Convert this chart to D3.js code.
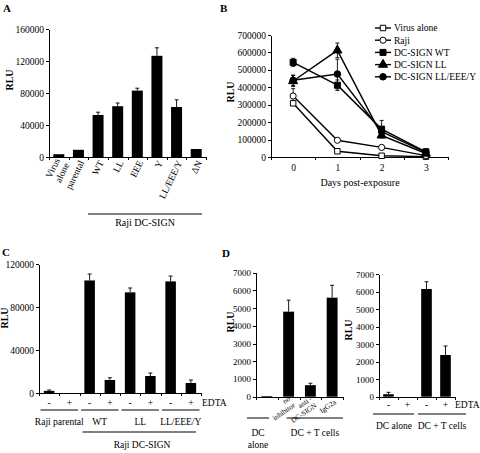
<!DOCTYPE html>
<html><head><meta charset="utf-8">
<script src="https://cdn.jsdelivr.net/npm/d3@7"></script>
<style>
body{margin:0;background:#fff;}
svg{display:block;}
svg text{font-family:"Liberation Serif","Times New Roman","DejaVu Serif",serif;fill:#000;}
.axis path,.axis line{stroke:#000;stroke-width:1;shape-rendering:crispEdges;}
.axis text{font-size:9px;}
</style></head><body>
<svg id="chart" width="480" height="453" font-family="Liberation Serif, serif"></svg>
<script>
// ---------- Panel A ----------
const aCategories = ["Virus alone","parental","WT","LL","EEE","Y","LL/EEE/Y","ΔN"];
const aValues = [3500, 9000, 52500, 63500, 83000, 126500, 62500, 10000];
const aErrors = [0, 0, 3500, 4000, 3000, 10000, 9000, 0];
const aTicks = [0, 40000, 80000, 120000, 160000];

// ---------- Panel B ----------
const bDays = [0, 1, 2, 3];
const bSeriesNames = ["Virus alone","Raji","DC-SIGN WT","DC-SIGN LL","DC-SIGN LL/EEE/Y"];
const bVirusAlone = [308000, 33000, 7000, 2000];
const bRaji = [350000, 96000, 55000, 8000];
const bWT = [543000, 412000, 160000, 30000];
const bLL = [436000, 612000, 124000, 20000];
const bLLEEEY = [440000, 476000, 145000, 27000];
const bVirusAloneErr = [12000, 5000, 2000, 1000];
const bRajiErr = [42000, 8000, 10000, 2000];
const bWTErr = [23000, 30000, 50000, 5000];
const bLLErr = [32000, 42000, 10000, 4000];
const bLLEEEYErr = [30000, 85000, 15000, 5000];
const bTicks = [0,100000,200000,300000,400000,500000,600000,700000];

// ---------- Panel C ----------
const cGroups = ["Raji parental","WT","LL","LL/EEE/Y"];
const cEdta = ["-","+"];
const cValues = [2000, 0, 104700, 12100, 93600, 15800, 103800, 9300];
const cErrors = [800, 0, 6000, 2100, 4100, 2800, 5000, 2800];
const cTicks = [0, 40000, 80000, 120000];

// ---------- Panel D (left) ----------
const dLeftCategories = ["DC alone","no inhibitor","anti-DC-SIGN","IgG2a"];
const dLeftTickLabels = [[], ["no","inhibitor"], ["anti -","DC-SIGN"], ["IgG2a"]];
const dLeftValues = [40, 4800, 650, 5590];
const dLeftErrors = [0, 650, 110, 700];
// ---------- Panel D (right) ----------
const dRightEdta = ["-","+","-","+"];
const dRightValues = [140, 0, 6160, 2385];
const dRightErrors = [110, 0, 415, 515];
const dTicks = [0,1000,2000,3000,4000,5000,6000,7000];

const svg = d3.select("#chart");
const fmt = d3.format("d");
const FONT = "Liberation Serif, Times New Roman, DejaVu Serif, serif";

function barPanel(cfg){
  const {values, errors, x0, x1, yBottom, yTop, max, ticks, barFrac=0.54, tickFont=9} = cfg;
  const n = values.length;
  const x = d3.scaleBand(d3.range(n), [x0, x1]);
  const y = d3.scaleLinear([0, max], [yBottom, yTop]);
  const g = svg.append("g");
  const ya = g.append("g").attr("class","axis").attr("transform",`translate(${x0},0)`)
    .call(d3.axisLeft(y).tickValues(ticks).tickFormat(fmt).tickSize(3).tickSizeOuter(0).tickPadding(2));
  ya.attr("font-family", FONT).selectAll("text").style("font-size", tickFont + "px");
  const xb = d3.scaleLinear([0, n], [x0, x1]);
  g.append("g").attr("class","axis").attr("transform",`translate(0,${yBottom})`)
    .call(d3.axisBottom(xb).tickValues(d3.range(n+1)).tickFormat("").tickSize(3).tickSizeOuter(0));
  const bw = x.bandwidth()*barFrac;
  g.selectAll("rect.bar").data(values).join("rect").attr("class","bar")
    .attr("x",(d,i)=>x(i)+(x.bandwidth()-bw)/2)
    .attr("y",d=>y(d)).attr("width",bw).attr("height",d=>yBottom-y(d)).attr("fill","#000");
  errors.forEach((e,i)=>{
    if(!e) return;
    const cx = x(i)+x.bandwidth()/2;
    const yt = y(values[i]+e);
    g.append("line").attr("x1",cx).attr("x2",cx).attr("y1",y(values[i])).attr("y2",yt)
      .attr("stroke","#000").attr("stroke-width",0.9);
    g.append("line").attr("x1",cx-2).attr("x2",cx+2).attr("y1",yt).attr("y2",yt)
      .attr("stroke","#000").attr("stroke-width",0.9);
  });
  return {x, y, g};
}

function label(txt, x, y, opts={}){
  const t = svg.append("text").attr("x",x).attr("y",y).text(txt)
    .attr("font-family", FONT)
    .style("font-size",(opts.size||10)+"px")
    .attr("text-anchor",opts.anchor||"middle");
  if(opts.bold) t.style("font-weight","bold");
  if(opts.rotate!==undefined) t.attr("transform",`rotate(${opts.rotate},${x},${y})`);
  return t;
}
function hline(x1,x2,y){
  svg.append("line").attr("x1",x1).attr("x2",x2).attr("y1",y).attr("y2",y)
    .attr("stroke","#000").attr("stroke-width",1);
}

// ===== Panel A =====
{
  const {x} = barPanel({values:aValues, errors:aErrors, x0:49, x1:206, yBottom:157, yTop:29,
    max:160000, ticks:aTicks, barFrac:0.56, tickFont:9.5});
  aCategories.forEach((c,i)=>{
    const lines = c.split(" ");
    const cx = x(i)+x.bandwidth()/2+3;
    const t = svg.append("text").attr("text-anchor","end").attr("font-family",FONT).style("font-size","9.5px")
      .attr("transform",`translate(${cx},161) rotate(-64)`);
    lines.forEach((l,j)=>{
      t.append("tspan").attr("x",0).attr("dy", j===0 ? (0.35 - (lines.length-1)*0.55)+"em" : "1.1em").text(l);
    });
  });
  hline(88, 202, 214);
  label("Raji DC-SIGN", 145, 226, {size:10});
  label("RLU", 13, 80, {size:10, bold:true, rotate:-90});
  label("A", 3, 12, {size:11, bold:true, anchor:"start"});
}

// ===== Panel B =====
{
  const y = d3.scaleLinear([0,700000],[157,35]);
  const x = d3.scalePoint(bDays,[271,448]).padding(0.5);
  const ya = svg.append("g").attr("class","axis").attr("transform","translate(271,0)")
    .call(d3.axisLeft(y).tickValues(bTicks).tickFormat(fmt).tickSize(3).tickSizeOuter(0).tickPadding(2));
  ya.attr("font-family",FONT).selectAll("text").style("font-size","9.5px");
  const xb = d3.scaleLinear([0,4],[271,448]);
  svg.append("g").attr("class","axis").attr("transform","translate(0,157)")
    .call(d3.axisBottom(xb).tickValues(d3.range(5)).tickFormat("").tickSize(3).tickSizeOuter(0));
  const xl = svg.append("g").attr("class","axis").attr("transform","translate(0,157)")
    .call(d3.axisBottom(x).tickSize(0).tickPadding(7));
  xl.attr("font-family",FONT).selectAll("text").style("font-size","9.5px");
  xl.select(".domain").remove();
  label("Days post-exposure", 360, 186, {size:10});
  label("RLU", 234, 92, {size:10, bold:true, rotate:-90});
  label("B", 220, 12, {size:11, bold:true, anchor:"start"});

  const seriesVals = [bVirusAlone, bRaji, bWT, bLL, bLLEEEY];
  const seriesErr = [bVirusAloneErr, bRajiErr, bWTErr, bLLErr, bLLEEEYErr];
  const symType = [d3.symbolSquare, d3.symbolCircle, d3.symbolSquare, d3.symbolTriangle, d3.symbolCircle];
  const symSize = [30, 30, 36, 36, 34];
  const symFill = ["#fff","#fff","#000","#000","#000"];
  const line = d3.line().x((d,i)=>x(bDays[i])).y(d=>y(d));
  seriesVals.forEach(v=>{
    svg.append("path").attr("d",line(v)).attr("fill","none").attr("stroke","#000").attr("stroke-width",1.4);
  });
  seriesVals.forEach((v,s)=>{
    v.forEach((d,i)=>{
      const e = seriesErr[s][i];
      const cx = x(bDays[i]);
      svg.append("line").attr("x1",cx).attr("x2",cx).attr("y1",y(d-e)).attr("y2",y(d+e)).attr("stroke","#000").attr("stroke-width",0.9);
      [d-e,d+e].forEach(yy=>svg.append("line").attr("x1",cx-2).attr("x2",cx+2).attr("y1",y(yy)).attr("y2",y(yy)).attr("stroke","#000").attr("stroke-width",0.9));
    });
  });
  seriesVals.forEach((v,s)=>{
    v.forEach((d,i)=>{
      svg.append("path").attr("d",d3.symbol(symType[s], symSize[s])())
        .attr("transform",`translate(${x(bDays[i])},${y(d)})`)
        .attr("fill",symFill[s]).attr("stroke","#000").attr("stroke-width",1);
    });
  });
  bSeriesNames.forEach((nm,s)=>{
    const ly = 28 + s*12.2;
    svg.append("line").attr("x1",375).attr("x2",391).attr("y1",ly).attr("y2",ly).attr("stroke","#000").attr("stroke-width",1.4);
    svg.append("path").attr("d",d3.symbol(symType[s], symSize[s])())
      .attr("transform",`translate(383,${ly})`).attr("fill",symFill[s]).attr("stroke","#000").attr("stroke-width",1);
    label(nm, 394, ly+3.3, {size:9.5, anchor:"start"});
  });
}

// ===== Panel C =====
{
  const {x} = barPanel({values:cValues, errors:cErrors, x0:39, x1:201, yBottom:393, yTop:264,
    max:120000, ticks:cTicks, barFrac:0.52, tickFont:9.5});
  const bw = x.bandwidth();
  cValues.forEach((v,i)=>{
    label(cEdta[i%2], x(i)+bw/2, 406, {size:9.5});
  });
  label("EDTA", 202, 406, {size:9.5, anchor:"start"});
  cGroups.forEach((gname,g)=>{
    const a = x(2*g)+1.5, b = x(2*g+1)+bw-1.5;
    hline(a, b, 410);
    label(gname, (a+b)/2, 425, {size:9.5});
  });
  hline(x(2)+3, 196, 432);
  label("Raji DC-SIGN", 142, 448, {size:9.5});
  label("RLU", 8, 318, {size:10, bold:true, rotate:-90});
  label("C", 2, 256, {size:11, bold:true, anchor:"start"});
}

// ===== Panel D left =====
{
  const {x} = barPanel({values:dLeftValues, errors:dLeftErrors, x0:256, x1:343, yBottom:396.7, yTop:272.7,
    max:7000, ticks:dTicks, barFrac:0.5, tickFont:9});
  const bw = x.bandwidth();
  dLeftTickLabels.forEach((lines,i)=>{
    if(!lines.length) return;
    const cx = x(i)+bw/2+3;
    const t = svg.append("text").attr("text-anchor","end").attr("font-family",FONT).style("font-size","7.3px")
      .attr("transform",`translate(${cx},401) rotate(-35)`);
    lines.forEach((l,j)=>{
      t.append("tspan").attr("x",0).attr("dy", j===0 ? (0.35-(lines.length-1)*0.55)+"em" : "1.1em").text(l);
    });
  });
  hline(247, 269, 418);
  label("DC", 258, 436, {size:9.5});
  label("alone", 258, 448, {size:9.5});
  hline(x(1)+9, 343, 418);
  label("DC + T cells", (x(1)+9+343)/2, 436, {size:9.5});
  label("RLU", 234, 322, {size:10, bold:true, rotate:-90});
  label("D", 222, 257, {size:11, bold:true, anchor:"start"});
}

// ===== Panel D right =====
{
  const {x} = barPanel({values:dRightValues, errors:dRightErrors, x0:379, x1:455, yBottom:396.7, yTop:274.3,
    max:7000, ticks:dTicks, barFrac:0.56, tickFont:9});
  const bw = x.bandwidth();
  dRightEdta.forEach((s,i)=>label(s, x(i)+bw/2, 408, {size:9.5}));
  label("EDTA", 455, 408, {size:9.5, anchor:"start"});
  hline(373, 414, 414);
  label("DC alone", 394, 429, {size:9.5});
  hline(418, 466, 414);
  label("DC + T cells", 442, 429, {size:9.5});
  label("RLU", 352, 330, {size:10, bold:true, rotate:-90});
}
</script>
</body></html>
